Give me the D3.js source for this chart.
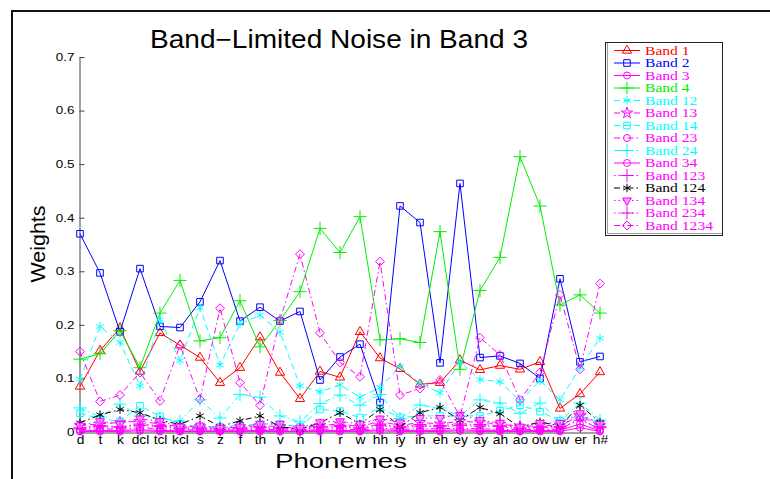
<!DOCTYPE html>
<html>
<head>
<meta charset="utf-8">
<script src="https://cdn.jsdelivr.net/npm/d3@7"></script>
<style>
  html, body { margin: 0; padding: 0; background: #fff; }
  svg { display: block; }
</style>
</head>
<body>
<svg id="chart" width="770" height="479"></svg>
<script>
// phoneme categories along the x axis
const phonemes = ['d', 't', 'k', 'dcl', 'tcl', 'kcl', 's', 'z', 'f', 'th', 'v', 'n', 'l', 'r', 'w',
  'hh', 'iy', 'ih', 'eh', 'ey', 'ay', 'ah', 'ao', 'ow', 'uw', 'er', 'h#'];

const yTicks = [0, 0.1, 0.2, 0.3, 0.4, 0.5, 0.6, 0.7];

// weights
const band1 = [0.085, 0.152, 0.194, 0.113, 0.185, 0.162, 0.139, 0.092, 0.12, 0.177, 0.111, 0.062, 0.113, 0.102,
  0.187, 0.138, 0.118, 0.089, 0.092, 0.134, 0.116, 0.124, 0.117, 0.131, 0.044, 0.071, 0.112];
const band2 = [0.37, 0.297, 0.187, 0.305, 0.197, 0.195, 0.243, 0.32, 0.207, 0.233, 0.207, 0.225, 0.097, 0.14,
  0.164, 0.055, 0.422, 0.391, 0.129, 0.464, 0.139, 0.142, 0.128, 0.1, 0.286, 0.131, 0.141];
const band3 = [0.001, 0.001, 0.001, 0.002, 0.001, 0.001, 0.001, 0.001, 0.001, 0.001, 0.001, 0.001, 0.001, 0.001,
  0.001, 0.002, 0.001, 0.001, 0.001, 0.002, 0.001, 0.001, 0.001, 0.001, 0.001, 0.008, 0.001];
const band4 = [0.136, 0.146, 0.189, 0.12, 0.222, 0.283, 0.17, 0.176, 0.245, 0.159, 0.208, 0.262, 0.38, 0.335,
  0.402, 0.172, 0.174, 0.167, 0.374, 0.117, 0.264, 0.326, 0.514, 0.422, 0.237, 0.256, 0.222];
const band12 = [0.098, 0.197, 0.167, 0.086, 0.21, 0.133, 0.232, 0.125, 0.202, 0.218, 0.186, 0.086, 0.075, 0.088,
  0.065, 0.083, 0.122, 0.091, 0.073, 0.131, 0.098, 0.094, 0.058, 0.096, 0.06, 0.12, 0.175];
const band13 = [0.012, 0.015, 0.018, 0.02, 0.015, 0.01, 0.01, 0.006, 0.01, 0.012, 0.01, 0.006, 0.012, 0.015,
  0.01, 0.02, 0.012, 0.018, 0.015, 0.02, 0.018, 0.015, 0.01, 0.012, 0.012, 0.03, 0.012];
const band14 = [0.035, 0.025, 0.02, 0.049, 0.029, 0.015, 0.01, 0.01, 0.012, 0.015, 0.015, 0.01, 0.042, 0.039,
  0.027, 0.045, 0.027, 0.03, 0.03, 0.03, 0.03, 0.04, 0.05, 0.038, 0.021, 0.03, 0.016];
const band23 = [0.004, 0.006, 0.005, 0.008, 0.006, 0.004, 0.004, 0.003, 0.004, 0.005, 0.004, 0.002, 0.005, 0.006,
  0.004, 0.007, 0.005, 0.006, 0.006, 0.007, 0.006, 0.005, 0.004, 0.005, 0.005, 0.025, 0.004];
const band24 = [0.045, 0.028, 0.052, 0.03, 0.025, 0.02, 0.06, 0.026, 0.07, 0.065, 0.03, 0.019, 0.053, 0.069,
  0.05, 0.07, 0.025, 0.05, 0.045, 0.03, 0.06, 0.054, 0.035, 0.054, 0.02, 0.054, 0.022];
const band34 = [0.002, 0.003, 0.003, 0.004, 0.003, 0.002, 0.002, 0.002, 0.002, 0.003, 0.002, 0.001, 0.003, 0.003,
  0.002, 0.004, 0.003, 0.003, 0.003, 0.004, 0.003, 0.003, 0.002, 0.003, 0.003, 0.015, 0.002];
const band123 = [0.008, 0.012, 0.01, 0.015, 0.012, 0.008, 0.008, 0.005, 0.008, 0.01, 0.008, 0.004, 0.01, 0.012,
  0.008, 0.015, 0.01, 0.014, 0.012, 0.015, 0.014, 0.012, 0.008, 0.01, 0.01, 0.035, 0.01];
const band124 = [0.017, 0.032, 0.042, 0.036, 0.022, 0.014, 0.03, 0.01, 0.021, 0.03, 0.01, 0.005, 0.017, 0.036,
  0.015, 0.042, 0.01, 0.036, 0.046, 0.022, 0.046, 0.034, 0.009, 0.019, 0.011, 0.05, 0.018];
const band134 = [0.012, 0.02, 0.015, 0.025, 0.02, 0.01, 0.012, 0.008, 0.01, 0.015, 0.015, 0.008, 0.018, 0.02,
  0.015, 0.025, 0.018, 0.026, 0.026, 0.032, 0.022, 0.017, 0.01, 0.017, 0.017, 0.035, 0.015];
const band234 = [0.006, 0.01, 0.008, 0.012, 0.01, 0.006, 0.006, 0.004, 0.006, 0.008, 0.006, 0.004, 0.008, 0.01,
  0.006, 0.012, 0.008, 0.011, 0.01, 0.012, 0.011, 0.01, 0.006, 0.008, 0.008, 0.022, 0.008];
const band1234 = [0.15, 0.057, 0.069, 0.111, 0.058, 0.162, 0.061, 0.231, 0.092, 0.05, 0.209, 0.332, 0.185, 0.13,
  0.103, 0.318, 0.069, 0.081, 0.097, 0.029, 0.176, 0.144, 0.06, 0.111, 0.256, 0.117, 0.277];

const solid = null;
const dashed = '6,4';
const dashDot = '6,3,1.5,3';
const dotted = '1.5,3';

// plotting order (later drawn on top), matlab-ish styles
const series = [
  { name: 'Band 1', values: band1, color: '#ff0000', dash: solid, marker: 'triangle' },
  { name: 'Band 2', values: band2, color: '#0000ff', dash: solid, marker: 'square' },
  { name: 'Band 3', values: band3, color: '#ff00ff', dash: solid, marker: 'circle' },
  { name: 'Band 4', values: band4, color: '#00ee00', dash: solid, marker: 'plus' },
  { name: 'Band 12', values: band12, color: '#00ffff', dash: dashed, marker: 'asterisk' },
  { name: 'Band 13', values: band13, color: '#ff00ff', dash: dashed, marker: 'star' },
  { name: 'Band 14', values: band14, color: '#00ffff', dash: dashed, marker: 'square' },
  { name: 'Band 23', values: band23, color: '#ff00ff', dash: dashDot, marker: 'circle' },
  { name: 'Band 24', values: band24, color: '#00ffff', dash: dashDot, marker: 'plus' },
  { name: 'Band 34', values: band34, color: '#ff00ff', dash: solid, marker: 'circle' },
  { name: 'Band 123', values: band123, color: '#ff00ff', dash: dotted, marker: 'plus' },
  { name: 'Band 124', values: band124, color: '#000000', dash: dashDot, marker: 'asterisk' },
  { name: 'Band 134', values: band134, color: '#ff00ff', dash: dotted, marker: 'triangleDown' },
  { name: 'Band 234', values: band234, color: '#ff00ff', dash: dotted, marker: 'plus' },
  { name: 'Band 1234', values: band1234, color: '#ff00ff', dash: dashDot, marker: 'diamond' },
];

const markerPaths = {
  triangle: d3.symbol(d3.symbolTriangle2, 62)(),
  triangleDown: d3.symbol(d3.symbolTriangle2, 55)(),
  square: d3.symbol(d3.symbolSquare2, 55)(),
  circle: d3.symbol(d3.symbolCircle, 38)(),
  plus: d3.symbol(d3.symbolPlus, 58)(),
  asterisk: d3.symbol(d3.symbolAsterisk, 50)(),
  star: d3.symbol(d3.symbolStar, 40)(),
  diamond: d3.symbol(d3.symbolDiamond2, 50)(),
};

const svg = d3.select('#chart');

// figure frame (only top and left edges fall inside the crop)
svg.append('path')
  .attr('d', 'M12,479V11H770')
  .attr('fill', 'none')
  .attr('stroke', '#111')
  .attr('stroke-width', 2);

const x = d3.scalePoint()
  .domain(phonemes)
  .range([80, 600]);

const y = d3.scaleLinear()
  .domain([0, 0.7])
  .range([432, 57]);

const stretchText = (sel, sx) => sel.attr('transform', `scale(${sx},1)`);

const yAxis = svg.append('g')
  .attr('transform', 'translate(79.5,0)')
  .call(d3.axisLeft(y)
    .tickValues(yTicks)
    .tickSizeInner(-5)
    .tickSizeOuter(0)
    .tickPadding(4)
    .tickFormat((d) => (d === 0 ? '0' : d.toFixed(1))));
yAxis.selectAll('path, line').attr('stroke', '#444');
yAxis.selectAll('text')
  .style('font-family', '"Liberation Sans", Arial, sans-serif')
  .style('font-size', '10.5px')
  .attr('fill', '#000')
  .call(stretchText, 1.28);

const xAxis = svg.append('g')
  .attr('transform', 'translate(0,432.5)')
  .call(d3.axisBottom(x)
    .tickSizeInner(-5)
    .tickSizeOuter(0)
    .tickPadding(3));
xAxis.selectAll('path, line').attr('stroke', '#444');
xAxis.selectAll('text')
  .style('font-family', '"Liberation Sans", Arial, sans-serif')
  .style('font-size', '12.5px')
  .attr('fill', '#000')
  .call(stretchText, 1.1);

// lines and markers
const line = d3.line()
  .x((d, i) => x(phonemes[i]))
  .y((d) => y(d));

const plot = svg.append('g');

const drawMarker = (g, s, px, py) => {
  g.append('path')
    .attr('d', markerPaths[s.marker])
    .attr('transform', `translate(${px},${py})${s.marker === 'triangleDown' ? ' rotate(180)' : ''}`)
    .attr('fill', s.marker === 'triangleDown' ? '#f7a0f7' : 'none')
    .attr('stroke', s.color)
    .attr('stroke-width', 1);
};

series.forEach((s) => {
  const g = plot.append('g');
  g.append('path')
    .datum(s.values)
    .attr('d', line)
    .attr('fill', 'none')
    .attr('stroke', s.color)
    .attr('stroke-width', 1)
    .attr('stroke-dasharray', s.dash);
  s.values.forEach((v, i) => drawMarker(g, s, x(phonemes[i]), y(v)));
});

// titles
svg.append('text')
  .attr('x', 339)
  .attr('y', 48)
  .attr('text-anchor', 'middle')
  .attr('textLength', 378)
  .attr('lengthAdjust', 'spacingAndGlyphs')
  .style('font-family', '"Liberation Sans", Arial, sans-serif')
  .style('font-size', '25px')
  .text('Band\u2212Limited Noise in Band 3');

svg.append('text')
  .attr('x', 341)
  .attr('y', 468)
  .attr('text-anchor', 'middle')
  .attr('textLength', 132)
  .attr('lengthAdjust', 'spacingAndGlyphs')
  .style('font-family', '"Liberation Sans", Arial, sans-serif')
  .style('font-size', '20px')
  .text('Phonemes');

svg.append('text')
  .attr('transform', 'translate(45,244) rotate(-90)')
  .attr('text-anchor', 'middle')
  .attr('textLength', 77)
  .attr('lengthAdjust', 'spacingAndGlyphs')
  .style('font-family', '"Liberation Sans", Arial, sans-serif')
  .style('font-size', '20px')
  .text('Weights');

// legend
const legend = svg.append('g');
legend.append('rect')
  .attr('x', 605.5)
  .attr('y', 42.5)
  .attr('width', 117)
  .attr('height', 193)
  .attr('fill', '#fff')
  .attr('stroke', '#222');
legend.append('path')
  .attr('d', 'M607.5,43V233.5H722')
  .attr('fill', 'none')
  .attr('stroke', '#999');

series.forEach((s, i) => {
  const ly = 50.5 + i * 12.5;
  const row = legend.append('g');
  row.append('line')
    .attr('x1', 614)
    .attr('x2', 640)
    .attr('y1', ly)
    .attr('y2', ly)
    .attr('stroke', s.color)
    .attr('stroke-width', 1)
    .attr('stroke-dasharray', s.dash);
  drawMarker(row, s, 627, ly);
  row.append('text')
    .attr('transform', `translate(645,${ly + 4}) scale(1.3,1)`)
    .style('font-family', '"Liberation Serif", "Times New Roman", serif')
    .style('font-size', '12px')
    .attr('fill', s.color)
    .text(s.name);
});
</script>
</body>
</html>
